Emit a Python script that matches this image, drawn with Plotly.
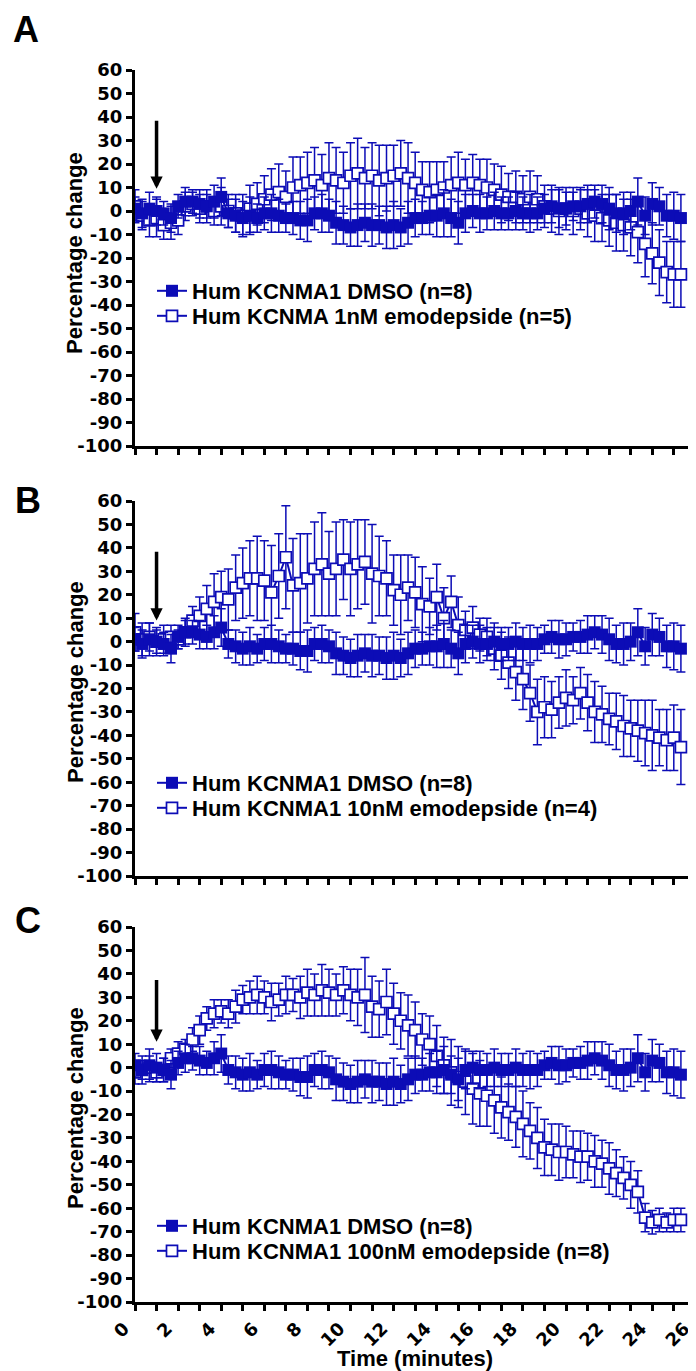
import plotly.graph_objects as go

# ---------------- data ----------------
time_min = [0.00, 0.33, 0.67, 1.00, 1.33, 1.67, 2.00, 2.33, 2.67, 3.00,
            3.33, 3.67, 4.00, 4.33, 4.67, 5.00, 5.33, 5.67, 6.00, 6.33,
            6.67, 7.00, 7.33, 7.67, 8.00, 8.33, 8.67, 9.00, 9.33, 9.67,
            10.00, 10.33, 10.67, 11.00, 11.33, 11.67, 12.00, 12.33, 12.67, 13.00,
            13.33, 13.67, 14.00, 14.33, 14.67, 15.00, 15.33, 15.67, 16.00, 16.33,
            16.67, 17.00, 17.33, 17.67, 18.00, 18.33, 18.67, 19.00, 19.33, 19.67,
            20.00, 20.33, 20.67, 21.00, 21.33, 21.67, 22.00, 22.33, 22.67, 23.00,
            23.33, 23.67, 24.00, 24.33, 24.67, 25.00, 25.33]

dmso_mean = [1, -1, 1, 0, -1, -3, 2, 4, 4, 3,
             2, 4, 6, -1, -2, -3, -2, -3, -1, -1,
             -2, -3, -3, -4, -4, -1, -1, -2, -5, -6,
             -7, -6, -5, -6, -6, -7, -6, -7, -5, -3,
             -3, -2, -2, -1, -3, -5, -1, 0, -1, -1,
             0, -1, -1, 0, -1, -1, -1, 1, 2, 1,
             1, 2, 2, 3, 4, 3, 1, -1, -1, 0,
             4, -2, 3, 2, -2, -2, -3]
dmso_sem = [5, 6, 7, 6, 5, 6, 5, 6, 5, 6,
            5, 7, 8, 6, 7, 7, 8, 6, 7, 8,
            7, 6, 7, 8, 9, 7, 8, 7, 9, 8,
            8, 9, 8, 9, 8, 9, 10, 8, 9, 8,
            7, 8, 9, 10, 8, 9, 8, 7, 8, 7,
            8, 7, 7, 8, 7, 8, 7, 6, 7, 8,
            7, 6, 7, 8, 7, 8, 9, 8, 9, 8,
            10, 8, 9, 8, 9, 10, 10]

emod1_mean = [2, -2, -4, -3, -6, -5, -4, 2, 3, 1,
              2, 0, 2, 0, -1, -2, 1, 3, 5, 7,
              8, 6, 10, 11, 12, 13, 11, 14, 13, 12,
              15, 16, 14, 15, 13, 14, 15, 16, 14, 12,
              9, 8, 9, 10, 11, 12, 11, 12, 11, 10,
              9, 7, 6, 6, 5, 6, 5, 2, 1, 0,
              1, 0, 1, -1, -2, -3, -4, -5, -6, -7,
              -9, -14, -18, -22, -26, -27, -27]
emod1_sem = [7, 6, 7, 8, 6, 7, 6, 6, 5, 6,
             7, 6, 8, 7, 8, 9, 10, 9, 10, 11,
             12, 11, 13, 12, 13, 14, 13, 15, 14, 13,
             14, 15, 13, 14, 15, 14, 13, 14, 15, 13,
             12, 13, 12, 11, 12, 13, 11, 12, 11, 12,
             11, 12, 10, 11, 10, 11, 10, 9, 10, 10,
             9, 10, 9, 10, 11, 10, 11, 12, 11, 12,
             13, 14, 13, 14, 13, 14, 14]

emod10_mean = [4, 1, 2, 0, 1, 2, 1, 4, 9, 11,
               14, 17, 19, 18, 23, 25, 27, 27, 26, 21,
               28, 36, 24, 25, 27, 31, 33, 29, 31, 35,
               31, 33, 34, 29, 28, 27, 22, 20, 23, 21,
               16, 15, 19, 10, 17, 7, 5, 6, 3, 2,
               -3, -6, -9, -13, -16, -22, -30, -28, -29, -26,
               -24, -25, -22, -26, -30, -31, -33, -34, -36, -37,
               -38, -39, -40, -41, -42, -41, -45]
emod10_sem = [8, 7, 6, 5, 6, 5, 4, 5, 6, 8,
              10, 12, 11, 13, 14, 15, 16, 18, 17, 20,
              18, 22, 20, 21, 19, 20, 22, 18, 20, 17,
              20, 19, 18, 21, 17, 16, 15, 17, 14, 15,
              16, 12, 14, 13, 11, 12, 8, 9, 7, 8,
              9, 10, 11, 12, 13, 12, 14, 13, 12, 11,
              12, 10, 11, 12, 13, 12, 11, 12, 13, 12,
              13, 14, 15, 12, 13, 14, 16]

emod100_mean = [-2, -1, 0, -2, -1, 4, 6, 8, 12, 16,
                21, 23, 24, 23, 26, 29, 30, 31, 30, 28,
                29, 31, 31, 30, 32, 31, 33, 32, 31, 33,
                31, 30, 31, 26, 25, 28, 23, 20, 18, 16,
                12, 10, 5, 1, -2, -4, -6, -9, -11, -12,
                -14, -17, -19, -21, -24, -27, -30, -34, -35, -36,
                -36, -37, -38, -38, -40, -41, -43, -45, -47, -50,
                -53, -64, -66, -65, -66, -65, -65]
emod100_sem = [5, 4, 5, 4, 5, 4, 5, 4, 5, 6,
               5, 6, 5, 6, 7, 6, 7, 8, 7, 8,
               7, 8, 7, 9, 10, 9, 11, 10, 9, 10,
               11, 12, 16, 13, 12, 14, 13, 12, 13, 12,
               11, 12, 13, 12, 14, 13, 14, 15, 14, 13,
               14, 13, 12, 13, 14, 12, 13, 12, 11, 12,
               11, 10, 11, 10, 11, 10, 11, 10, 9, 10,
               9, 6, 5, 5, 4, 5, 5]

panel_letters = ["A", "B", "C"]
dmso_label = "Hum KCNMA1 DMSO (n=8)"
emod_labels = ["Hum KCNMA 1nM emodepside (n=5)",
               "Hum KCNMA1 10nM emodepside (n=4)",
               "Hum KCNMA1 100nM emodepside (n=8)"]
emod_means = [emod1_mean, emod10_mean, emod100_mean]
emod_sems = [emod1_sem, emod10_sem, emod100_sem]

y_ticks = [60, 50, 40, 30, 20, 10, 0, -10, -20, -30, -40, -50, -60, -70, -80, -90, -100]
x_ticks = [0, 2, 4, 6, 8, 10, 12, 14, 16, 18, 20, 22, 24, 26]
arrow_time = 1.0
arrow_top = [39, 39, 38]
arrow_tip = [9.5, 9, 11]

# ---------------- layout geometry (pixels) ----------------
W, H = 696, 1371
L, R, T, B = 127, 8, 62, 77
PW, PH = W - L - R, H - T - B
panel_px = [(62, 438), (493, 868), (919, 1294)]
legend_rows = [(283, 308), (775, 800), (1218, 1243)]
ytitle_center = [245, 674, 1100]
letter_center = [(18, 22), (20, 492), (20, 912)]

def px_x(px):
    return (px - L) / PW

def px_y(py):
    return (T + PH - py) / PH

BLUE = "rgb(12,12,182)"
TICKFONT = dict(family="DejaVu Sans", size=18, color="black", weight="bold")
LABFONT = dict(family="Liberation Sans", size=22, color="black", weight="bold")

fig = go.Figure()
layout = dict(width=W, height=H, margin=dict(l=L, r=R, t=T, b=B, autoexpand=False),
              paper_bgcolor="white", plot_bgcolor="white", showlegend=True)
annotations = []

for i in range(3):
    sfx = "" if i == 0 else str(i + 1)
    xa, ya = "x" + sfx, "y" + sfx
    top, bot = panel_px[i]
    lg_d = "legend" + ("" if i == 0 else str(2 * i + 1))
    lg_e = "legend" + str(2 * i + 2)

    # emodepside (open squares)
    fig.add_trace(go.Scatter(
        x=time_min, y=emod_means[i], xaxis=xa, yaxis=ya, mode="lines+markers",
        name=emod_labels[i], legend=lg_e,
        line=dict(color=BLUE, width=2),
        marker=dict(symbol="square", size=11, color="white", line=dict(color=BLUE, width=1.7)),
        error_y=dict(type="data", array=emod_sems[i], color=BLUE, thickness=1.5, width=4.5)))
    # DMSO (filled squares)
    fig.add_trace(go.Scatter(
        x=time_min, y=dmso_mean, xaxis=xa, yaxis=ya, mode="lines+markers",
        name=dmso_label, legend=lg_d,
        line=dict(color=BLUE, width=2),
        marker=dict(symbol="square", size=12, color=BLUE),
        error_y=dict(type="data", array=dmso_sem, color=BLUE, thickness=1.5, width=4.5)))

    for lg, ypx in ((lg_d, legend_rows[i][0]), (lg_e, legend_rows[i][1])):
        layout[lg] = dict(x=px_x(144), y=px_y(ypx), xanchor="left", yanchor="middle",
                          bgcolor="rgba(0,0,0,0)", font=LABFONT, itemwidth=30)

    layout["xaxis" + sfx] = dict(
        domain=[0, 1], anchor=ya, range=[0, 26.03], showline=True, linewidth=3, linecolor="black",
        showgrid=False, zeroline=False, ticks="outside", ticklen=6, tickwidth=2.5, tickcolor="black",
        tickvals=x_ticks, ticktext=[str(v) for v in x_ticks], tickangle=-45,
        showticklabels=(i == 2), tickfont=TICKFONT, automargin=False,
        ticklabeloverflow="allow", ticklabelshift=-11,
        minor=dict(dtick=1, ticks="outside", ticklen=6, tickwidth=2.5, tickcolor="black"))
    layout["yaxis" + sfx] = dict(
        domain=[px_y(bot), px_y(top)], anchor=xa, range=[-100, 60], showline=True, linewidth=3,
        linecolor="black", showgrid=False, zeroline=False, ticks="outside", ticklen=6,
        tickwidth=2.5, tickcolor="black", tickvals=y_ticks, ticktext=[str(v) for v in y_ticks],
        tickfont=TICKFONT, automargin=False, ticklabeloverflow="allow")

    annotations.append(dict(x=arrow_time, y=arrow_tip[i], ax=arrow_time, ay=arrow_top[i],
                            xref=xa, yref=ya, axref=xa, ayref=ya, text="", showarrow=True,
                            arrowhead=2, arrowsize=0.7, arrowwidth=3.5, arrowcolor="black",
                            standoff=0, startstandoff=0))
    annotations.append(dict(x=px_x(67), y=px_y(ytitle_center[i]), xref="paper", yref="paper",
                            text="Percentage change", textangle=-90, showarrow=False,
                            xanchor="center", yanchor="middle",
                            font=dict(family="Liberation Sans", size=22, color="black", weight="bold")))
    annotations.append(dict(x=px_x(letter_center[i][0]), y=px_y(letter_center[i][1]),
                            xref="paper", yref="paper", text=panel_letters[i], showarrow=False,
                            xanchor="center", yanchor="middle",
                            font=dict(family="Liberation Sans", size=36, color="black", weight="bold")))

annotations.append(dict(x=px_x(407), y=px_y(1350), xref="paper", yref="paper",
                        text="Time (minutes)", showarrow=False, xanchor="center", yanchor="middle",
                        font=dict(family="Liberation Sans", size=22, color="black", weight="bold")))
layout["annotations"] = annotations
fig.update_layout(**layout)
fig.write_html("out.html")
